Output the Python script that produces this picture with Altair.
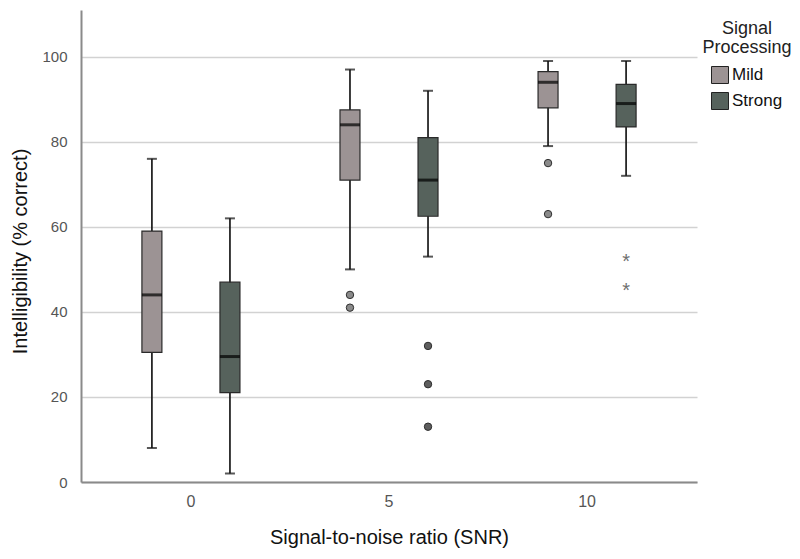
import altair as alt
import pandas as pd

# ---- data ----
snr_levels = ["0", "5", "10"]
processing = ["Mild", "Strong"]

box_snr = ["0", "0", "5", "5", "10", "10"]
box_proc = ["Mild", "Strong", "Mild", "Strong", "Mild", "Strong"]
whisker_low = [8, 2, 50, 53, 79, 72]
q1 = [30.5, 21, 71, 62.5, 88, 83.5]
median = [44, 29.5, 84, 71, 94, 89]
q3 = [59, 47, 87.5, 81, 96.5, 93.5]
whisker_high = [76, 62, 97, 92, 99, 99]

outlier_snr = ["5", "5", "5", "5", "5", "10", "10"]
outlier_proc = ["Mild", "Mild", "Strong", "Strong", "Strong", "Mild", "Mild"]
outlier_val = [44, 41, 32, 23, 13, 75, 63]

extreme_snr = ["10", "10"]
extreme_proc = ["Strong", "Strong"]
extreme_val = [53, 46]

y_ticks = [0, 20, 40, 60, 80, 100]

box_df = pd.DataFrame({
    "snr": box_snr, "proc": box_proc, "low": whisker_low, "q1": q1,
    "median": median, "q3": q3, "high": whisker_high,
})
out_df = pd.DataFrame({"snr": outlier_snr, "proc": outlier_proc, "val": outlier_val})
ext_df = pd.DataFrame({"snr": extreme_snr, "proc": extreme_proc, "val": extreme_val})

# ---- shared encodings ----
x_axis = alt.Axis(
    title="Signal-to-noise ratio (SNR)", labelAngle=0, ticks=False,
    domainColor="#8a8a8a", domainWidth=2, labelFontSize=16, labelColor="#555555",
    labelPadding=11, titleFontSize=20, titleFontWeight="normal",
    titleColor="#111111", titleBaseline="alphabetic", titleY=61, grid=False,
)
x_scale = alt.Scale(domain=snr_levels, paddingInner=0, paddingOuter=0.055)
xo_scale = alt.Scale(domain=processing, paddingInner=0.744, paddingOuter=0.641)

y_axis = alt.Axis(
    values=y_ticks, grid=True, gridColor="#d2d2d2", gridWidth=1.5, ticks=False,
    domainColor="#8a8a8a", domainWidth=2, labelFontSize=15, labelColor="#555555",
    labelPadding=14, titleFontSize=20, titleFontWeight="normal",
    titleColor="#111111", titleBaseline="alphabetic", titleAngle=270,
    titleAlign="center", titleX=-55, titleY=241,
)
y_scale = alt.Scale(domain=[0, 111], nice=False, zero=True)
y_title = "Intelligibility (% correct)"


def xe():
    return alt.X("snr:N", sort=snr_levels, scale=x_scale, axis=x_axis)


def xoe():
    return alt.XOffset("proc:N", sort=processing, scale=xo_scale)


def ye(field):
    return alt.Y(f"{field}:Q", scale=y_scale, axis=y_axis, title=y_title)


box_base = alt.Chart(box_df)

whisker = box_base.mark_rule(color="#1a1a1a", strokeWidth=1.7).encode(
    x=xe(), xOffset=xoe(), y=ye("low"), y2="high:Q"
)

caps = box_base.transform_fold(["low", "high"], as_=["end", "val"]).mark_tick(
    color="#111111", thickness=2, size=10
).encode(x=xe(), xOffset=xoe(), y=ye("val"))

boxes = box_base.mark_bar(stroke="#2a2a2a", strokeWidth=1.2).encode(
    x=xe(), xOffset=xoe(), y=ye("q1"), y2="q3:Q",
    color=alt.Color(
        "proc:N", sort=processing,
        scale=alt.Scale(domain=processing, range=["#9c9394", "#56625c"]),
        legend=alt.Legend(
            title=["Signal", "Processing"], orient="none", legendX=621, legendY=10,
            titleFontSize=18, titleFontWeight="normal", titleColor="#222222",
            titleAnchor="middle", titleAlign="center", titleLineHeight=19,
            titlePadding=9, labelFontSize=17, labelColor="#111111",
            labelOffset=3, symbolType="square", symbolSize=289,
            symbolStrokeColor="#222222", symbolStrokeWidth=1, rowPadding=4,
            padding=0,
        ),
    ),
)

med = box_base.mark_tick(color="#000000", thickness=3, size=20).encode(
    x=xe(), xOffset=xoe(), y=ye("median")
)

outliers = alt.Chart(out_df).mark_point(
    filled=True, shape="circle", size=55, stroke="#2e2e2e", strokeWidth=1, opacity=1
).encode(
    x=xe(), xOffset=xoe(), y=ye("val"),
    fill=alt.condition(alt.datum.proc == "Mild", alt.value("#8a8a8a"), alt.value("#5e5e5e")),
)

extremes = alt.Chart(ext_df).mark_text(
    text="*", fontSize=20, color="#707070", baseline="alphabetic", dy=11
).encode(x=xe(), xOffset=xoe(), y=ye("val"))

chart = alt.layer(whisker, boxes, med, caps, outliers, extremes).properties(
    width=616, height=472,
    autosize=alt.AutoSizeParams(type="none"),
    padding={"left": 73, "top": 2, "right": 95, "bottom": 69},
).configure(font="Liberation Sans").configure_view(stroke="transparent")

chart.save("out.html", embed_options={"renderer": "svg", "actions": False})
